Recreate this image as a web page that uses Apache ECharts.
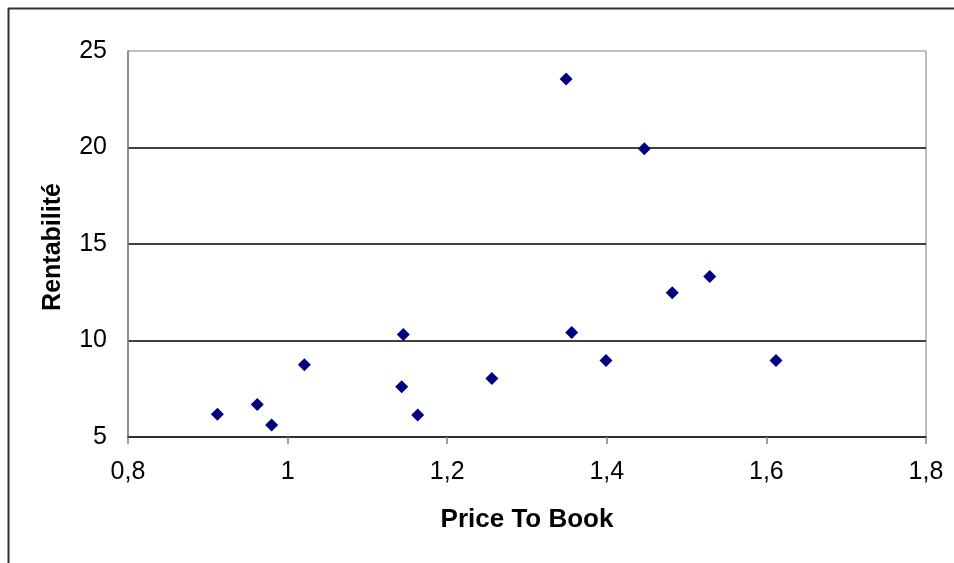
<!DOCTYPE html>
<html>
<head>
<meta charset="utf-8">
<script src="https://cdn.jsdelivr.net/npm/echarts@6/dist/echarts.min.js"></script>
<style>
  html, body { margin: 0; padding: 0; background: #fff; }
  #chart { width: 954px; height: 563px; }
</style>
</head>
<body>
<div id="chart"></div>
<script>
// Price-to-book ratio vs. profitability
const priceToBook = [0.912, 0.962, 0.980, 1.021, 1.143, 1.145, 1.163, 1.256, 1.349, 1.356, 1.399, 1.447, 1.482, 1.529, 1.612];
const rentabilite = [6.18, 6.69, 5.62, 8.75, 7.61, 10.31, 6.14, 8.03, 23.55, 10.41, 8.96, 19.94, 12.48, 13.31, 8.96];
const xTitle = 'Price To Book';
const yTitle = 'Rentabilité';

const points = priceToBook.map((x, i) => [x, rentabilite[i]]);
const fmt = v => String(Math.round(v * 10) / 10).replace('.', ',');
const font = '"Liberation Sans", Arial, sans-serif';

const chart = echarts.init(document.getElementById('chart'), null, { renderer: 'canvas' });
chart.setOption({
  animation: false,
  backgroundColor: '#fff',
  grid: {
    left: 128, top: 51, right: 28, bottom: 126,
    show: true, borderColor: '#808080', borderWidth: 1, backgroundColor: '#fff'
  },
  xAxis: {
    type: 'value', min: 0.8, max: 1.8, interval: 0.2,
    axisLine: { show: true, onZero: false, lineStyle: { color: '#000', width: 1.5 } },
    axisTick: { show: true, inside: false, length: 7, lineStyle: { color: '#808080', width: 1.5 } },
    axisLabel: { color: '#000', fontSize: 25, fontFamily: font, margin: 23, formatter: fmt },
    splitLine: { show: false }
  },
  yAxis: {
    type: 'value', min: 5, max: 25, interval: 5,
    axisLine: { show: true, lineStyle: { color: '#808080', width: 1.5 } },
    axisTick: { show: false },
    axisLabel: { color: '#000', fontSize: 25, fontFamily: font, margin: 21 },
    splitLine: { show: true, showMinLine: false, showMaxLine: false, lineStyle: { color: '#000', width: 1.5 } }
  },
  graphic: [
    { type: 'line', shape: { x1: 8, y1: 8.5, x2: 960, y2: 8.5 }, style: { stroke: '#303030', lineWidth: 2 } },
    { type: 'line', shape: { x1: 8.5, y1: 8, x2: 8.5, y2: 570 }, style: { stroke: '#303030', lineWidth: 2 } },
    {
      type: 'text', x: 527, y: 520,
      style: { text: xTitle, font: 'bold 26px ' + font, fill: '#000', align: 'center', verticalAlign: 'middle' }
    },
    {
      type: 'text', x: 53, y: 247, rotation: Math.PI / 2,
      style: { text: yTitle, font: 'bold 25px ' + font, fill: '#000', align: 'center', verticalAlign: 'middle' }
    }
  ],
  series: [{
    type: 'scatter',
    data: points,
    symbol: 'diamond',
    symbolSize: 13,
    itemStyle: { color: '#000080', opacity: 1 }
  }]
});
</script>
</body>
</html>
